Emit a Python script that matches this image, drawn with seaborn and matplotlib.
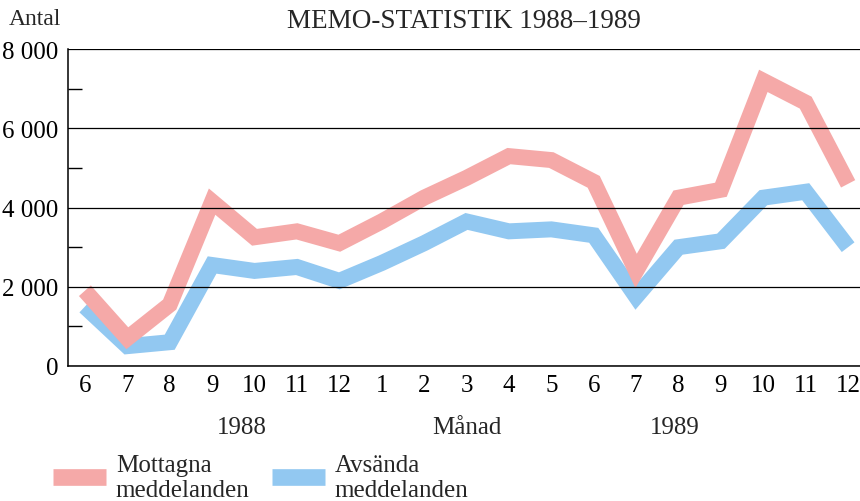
import matplotlib
matplotlib.use("Agg")
import matplotlib.pyplot as plt
from matplotlib.lines import Line2D
from matplotlib.ticker import FixedLocator
import pandas as pd
import seaborn as sns

# manader jun 1988 - dec 1989
manader = [6, 7, 8, 9, 10, 11, 12, 1, 2, 3, 4, 5, 6, 7, 8, 9, 10, 11, 12]
mottagna = [1900, 700, 1550, 4150, 3250, 3400, 3100, 3650, 4250, 4750,
            5300, 5200, 4650, 2400, 4250, 4450, 7200, 6650, 4600]
avsanda = [1500, 500, 600, 2550, 2400, 2500, 2150, 2600, 3100, 3650,
           3400, 3450, 3300, 1750, 3000, 3150, 4250, 4400, 3000]
y_ticks = [0, 2000, 4000, 6000, 8000]
y_labels = ["0", "2 000", "4 000", "6 000", "8 000"]

PINK = "#F5A9A8"
BLUE = "#92C8F1"

sns.set_style("white")
plt.rcParams["font.family"] = ["Liberation Serif", "DejaVu Serif"]

pos = list(range(len(manader)))
df = pd.DataFrame({
    "pos": pos * 2,
    "antal": avsanda + mottagna,
    "serie": ["Avsända"] * len(pos) + ["Mottagna"] * len(pos),
})

fig = plt.figure(figsize=(8.6, 5.02), dpi=100)
ax = fig.add_axes([0.079, 0.269, 0.921, 0.631])

sns.lineplot(data=df, x="pos", y="antal", hue="serie",
             hue_order=["Avsända", "Mottagna"],
             palette={"Avsända": BLUE, "Mottagna": PINK},
             linewidth=11.5, legend=False, sort=False, ax=ax,
             solid_capstyle="butt", solid_joinstyle="miter")

ax.set_xlim(-0.4, 18.28)
ax.set_ylim(0, 8000)
ax.set_xlabel("")
ax.set_ylabel("")

ax.set_xticks(pos)
ax.set_xticklabels([str(m) for m in manader])
ax.set_yticks(y_ticks)
ax.set_yticklabels(y_labels)
ax.yaxis.set_minor_locator(FixedLocator([1000, 3000, 5000, 7000]))

ax.tick_params(axis="x", direction="in", length=10, width=1, pad=6,
               labelsize=18, colors="black")
ax.tick_params(axis="y", which="major", length=0, pad=7, labelsize=18,
               colors="black")
ax.tick_params(axis="y", which="minor", direction="in", length=10,
               width=1, colors="black", left=True)

ax.set_axisbelow(False)
ax.yaxis.grid(True, color="black", linewidth=0.9)
ax.xaxis.grid(False)

for s in ["top", "right"]:
    ax.spines[s].set_visible(False)
for s in ["left", "bottom"]:
    ax.spines[s].set_color("black")
    ax.spines[s].set_linewidth(1.1)

fig.text(0.539, 0.958, "MEMO-STATISTIK 1988–1989", ha="center", va="center",
         fontsize=19.5)
fig.text(0.01, 0.962, "Antal", ha="left", va="center", fontsize=17)

tr = ax.get_xaxis_transform()
ax.text(3.7, -0.193, "1988", transform=tr, ha="center", va="center", fontsize=18)
ax.text(9.0, -0.193, "Månad", transform=tr, ha="center", va="center", fontsize=18)
ax.text(13.9, -0.193, "1989", transform=tr, ha="center", va="center", fontsize=18)

handles = [Line2D([], [], color=PINK, lw=12, solid_capstyle="butt"),
           Line2D([], [], color=BLUE, lw=12, solid_capstyle="butt")]
fig.legend(handles, ["Mottagna\nmeddelanden", "Avsända\nmeddelanden"],
           loc="upper left", bbox_to_anchor=(0.062, 0.094), ncol=2,
           frameon=False, fontsize=18, handlelength=2.1, handletextpad=0.4,
           columnspacing=0.9, borderpad=0, borderaxespad=0,
           labelspacing=0.2)

fig.savefig("out.png", dpi=100)
